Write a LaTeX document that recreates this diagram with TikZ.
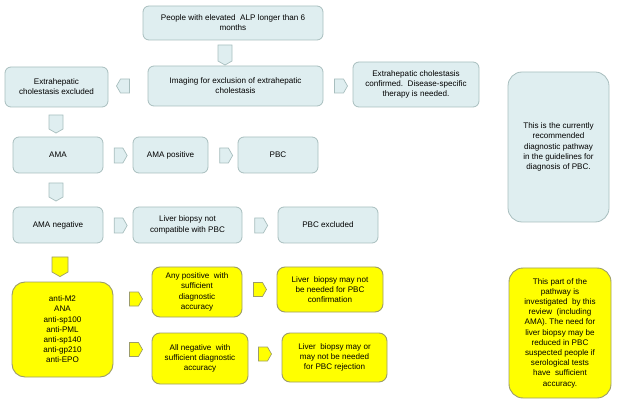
\documentclass[tikz,border=0pt]{standalone}
\usepackage{fontspec}
\setmainfont{Liberation Sans}
\usetikzlibrary{shapes.symbols}
\definecolor{bfill}{HTML}{DFEEF0}
\definecolor{bdraw}{HTML}{A8BEBE}
\definecolor{yfill}{HTML}{FFFF00}
\definecolor{ydraw}{HTML}{9C9C6A}
\tikzset{
  bbox/.style={draw=bdraw, fill=bfill, line width=0.8pt, rounded corners=6pt, align=center, inner sep=1pt, font=\fontsize{8.1}{10.2}\selectfont},
  ybox/.style={draw=ydraw, fill=yfill, line width=0.9pt, rounded corners=8pt, align=center, inner sep=1pt, font=\fontsize{8.1}{10.2}\selectfont},
  sig/.style={signal, signal from=nowhere, signal pointer angle=120, line width=0.7pt, inner sep=0pt, minimum width=13pt, minimum height=14pt},
  bsig/.style={sig, draw=bdraw, fill=bfill},
  ysig/.style={sig, draw=ydraw, fill=yfill},
}
\begin{document}
\begin{tikzpicture}[x=1pt,y=-1pt]
\useasboundingbox (0,0) rectangle (618,403);
% blue boxes
\node[bbox, minimum width=180pt, minimum height=34pt] (ppl) at (233,23) {People with elevated\ \ ALP longer than 6\\months};
\node[bbox, minimum width=175pt, minimum height=40pt] (img) at (235.5,86) {Imaging for exclusion of extrahepatic\\cholestasis};
\node[bbox, minimum width=103pt, minimum height=40pt] (exc) at (56.5,87) {Extrahepatic\\cholestasis excluded};
\node[bbox, minimum width=126pt, minimum height=45pt] (conf) at (416,84.5) {Extrahepatic cholestasis\\confirmed.\ \ Disease-specific\\therapy is needed.};
\node[bbox, rounded corners=14pt, minimum width=101pt, minimum height=150pt] (note1) at (558.5,147) {This is the currently\\recommended\\diagnostic pathway\\in the guidelines for\\diagnosis of PBC.};
\node[bbox, minimum width=90pt, minimum height=36pt] (ama) at (58,155) {AMA};
\node[bbox, minimum width=75pt, minimum height=36pt] (amap) at (170.5,155) {AMA positive};
\node[bbox, minimum width=80pt, minimum height=36pt] (pbc) at (278,155) {PBC};
\node[bbox, minimum width=90pt, minimum height=36pt] (aman) at (58,225) {AMA negative};
\node[bbox, minimum width=109pt, minimum height=36pt] (lb) at (187.5,225) {Liver biopsy not\\compatible with PBC};
\node[bbox, minimum width=100pt, minimum height=36pt] (pbcx) at (328,225) {PBC excluded};
% yellow boxes
\node[ybox, rounded corners=13pt, minimum width=101pt, minimum height=95pt] (list) at (62.5,329.5) {anti-M2\\ANA\\anti-sp100\\anti-PML\\anti-sp140\\anti-gp210\\anti-EPO};
\node[ybox, minimum width=90pt, minimum height=50pt] (anyp) at (197,292) {Any positive\ \ with\\sufficient\\diagnostic\\accuracy};
\node[ybox, minimum width=96pt, minimum height=51pt] (alln) at (200,358.5) {All negative\ \ with\\sufficient\ diagnostic\\accuracy};
\node[ybox, minimum width=106pt, minimum height=45pt] (lbc) at (330,289.5) {Liver\ \ biopsy may not\\be needed for PBC\\confirmation};
\node[ybox, minimum width=105pt, minimum height=49pt] (lbr) at (334.5,357.5) {Liver\ \ biopsy may or\\may not be needed\\for PBC rejection};
\node[ybox, rounded corners=14pt, minimum width=102pt, minimum height=130pt] (note2) at (560,333) {This part of the\\pathway is\\investigated\ \ by this\\review\ \ (including\\AMA). The need for\\liver biopsy may be\\reduced in PBC\\suspected people if\\serological tests\\have\ \ sufficient\\accuracy.};
% pentagon arrows
\node[bsig, signal to=south, minimum width=14pt, minimum height=16pt] (a1) at (225,53) {};
\node[bsig, signal to=west] (a2) at (125,86) {};
\node[bsig, signal to=east] (a3) at (339,86) {};
\node[bsig, signal to=south, minimum width=14pt, minimum height=14pt] (a4) at (56,122) {};
\node[bsig, signal to=east, minimum height=15pt] (a5) at (118.5,155.5) {};
\node[bsig, signal to=east, minimum height=15pt] (a6) at (224,155.5) {};
\node[bsig, signal to=south, minimum width=14pt, minimum height=14pt] (a7) at (56,190) {};
\node[bsig, signal to=east, minimum height=15pt] (a8) at (118.5,225.5) {};
\node[bsig, signal to=east, minimum height=15pt] (a9) at (259,225.5) {};
\node[ysig, signal to=south, minimum width=16pt, minimum height=15pt] (y1) at (60,264.5) {};
\node[ysig, signal to=east] (y2) at (134,299) {};
\node[ysig, signal to=east] (y3) at (134,349.5) {};
\node[ysig, signal to=east] (y4) at (258,289.5) {};
\node[ysig, signal to=east] (y5) at (263,354) {};
\end{tikzpicture}
\end{document}
